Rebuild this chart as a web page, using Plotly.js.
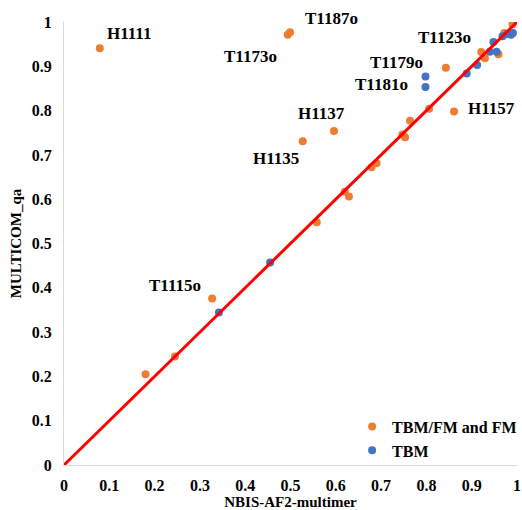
<!DOCTYPE html>
<html>
<head>
<meta charset="utf-8">
<script src="https://cdn.plot.ly/plotly-3.0.1.min.js"></script>
<style>html,body{margin:0;padding:0;background:#fff}#chart{width:522px;height:510px}</style>
</head>
<body>
<div id="chart"></div>
<script>
// TBM/FM and FM
var fmX = [0.079, 0.494, 0.499, 0.596, 0.527, 0.180, 0.245, 0.327, 0.558, 0.620, 0.629, 0.679, 0.690, 0.747, 0.753, 0.764, 0.806, 0.861, 0.843, 0.921, 0.929, 0.959, 0.972, 0.990];
var fmY = [0.941, 0.971, 0.977, 0.754, 0.731, 0.205, 0.245, 0.376, 0.548, 0.617, 0.606, 0.672, 0.681, 0.746, 0.740, 0.777, 0.804, 0.798, 0.897, 0.932, 0.918, 0.927, 0.975, 0.995];
// TBM
var tbmX = [0.342, 0.455, 0.798, 0.798, 0.889, 0.912, 0.940, 0.948, 0.955, 0.968, 0.979, 0.987, 0.991];
var tbmY = [0.344, 0.457, 0.877, 0.853, 0.884, 0.903, 0.933, 0.955, 0.933, 0.968, 0.973, 0.971, 0.975];
// diagonal y = x
var diagX = [0, 1];
var diagY = [0, 1];
// labels
var labelText = ["H1111", "T1187o", "T1173o", "T1123o", "T1179o", "T1181o", "H1157", "H1137", "H1135", "T1115o"];
var labelX = [0.1435, 0.5905, 0.4128, 0.841, 0.734, 0.701, 0.944, 0.569, 0.468, 0.245];
var labelY = [0.975, 1.007, 0.921, 0.966, 0.9086, 0.858, 0.805, 0.794, 0.693, 0.405];
var xTicks = [0, 0.1, 0.2, 0.3, 0.4, 0.5, 0.6, 0.7, 0.8, 0.9, 1];
var xTickText = ["0", "0.1", "0.2", "0.3", "0.4", "0.5", "0.6", "0.7", "0.8", "0.9", "1"];

var serif = "Liberation Serif, Times New Roman, serif";

var traces = [
  {x: fmX, y: fmY, type: "scatter", mode: "markers", name: "TBM/FM and FM",
   marker: {color: "#ED7D31", size: 8}},
  {x: tbmX, y: tbmY, type: "scatter", mode: "markers", name: "TBM",
   marker: {color: "#4472C4", size: 8}},
  {x: diagX, y: diagY, type: "scatter", mode: "lines", showlegend: false,
   line: {color: "#FF0000", width: 3}, hoverinfo: "skip"}
];

// axis ranges are [0,1], so paper coordinates coincide with data coordinates
var annotations = labelText.map(function (t, i) {
  return {x: labelX[i], y: labelY[i], xref: "paper", yref: "paper", xanchor: "center", yanchor: "middle",
    text: t, showarrow: false,
    font: {family: serif, size: 17, color: "#000", weight: "bold"}};
});

var axisCommon = {
  range: [0, 1], tickvals: xTicks, ticktext: xTickText, showgrid: false, zeroline: false,
  showline: true, linecolor: "#D9D9D9", linewidth: 1, ticks: "",
  tickfont: {family: serif, size: 16, color: "#000", weight: "bold"}
};

var layout = {
  width: 522, height: 510,
  margin: {l: 64, r: 5, t: 22, b: 45, autoexpand: false},
  paper_bgcolor: "#fff", plot_bgcolor: "#fff",
  showlegend: true,
  legend: {x: 0.636, y: -0.006, xanchor: "left", yanchor: "bottom", bgcolor: "rgba(0,0,0,0)",
    font: {family: serif, size: 16, color: "#000", weight: "bold"}, tracegroupgap: 0},
  xaxis: Object.assign({}, axisCommon, {
    ticklabelstandoff: 6,
    title: {text: "NBIS-AF2-multimer", standoff: 4, font: {family: serif, size: 15, color: "#000", weight: "bold"}}
  }),
  yaxis: Object.assign({}, axisCommon, {
    ticklabelstandoff: 8,
    title: {text: "MULTICOM_qa", standoff: 6, font: {family: serif, size: 15, color: "#000", weight: "bold"}}
  }),
  annotations: annotations
};

Plotly.newPlot("chart", traces, layout, {displayModeBar: false, staticPlot: true});
</script>
</body>
</html>
